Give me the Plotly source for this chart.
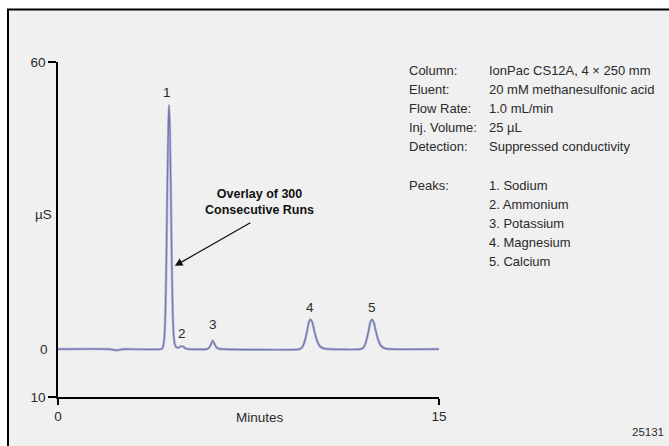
import plotly.graph_objects as go

# Chromatogram trace: retention time (min) and conductivity (µS)
time_min = [0.0, 2.0, 2.2, 2.3, 2.4, 2.6, 4.05, 4.12, 4.18, 4.23, 4.27, 4.31, 4.35,
            4.37, 4.40, 4.44, 4.48, 4.52, 4.56, 4.60, 4.66, 4.74, 4.82, 4.88, 4.94,
            5.02, 5.15, 5.85, 5.95, 6.03, 6.09, 6.16, 6.24, 6.37, 6.5, 9.5, 9.60,
            9.70, 9.80, 9.88, 9.94, 10.01, 10.10, 10.20, 10.31, 10.46, 10.7, 11.9,
            12.02, 12.12, 12.22, 12.30, 12.36, 12.43, 12.52, 12.62, 12.73, 12.88,
            13.1, 15.0]
signal_us = [0.0, 0.0, -0.15, -0.25, -0.15, 0.0, 0.0, 0.3, 2.0, 8.0, 20.0, 36.0, 48.0,
             51.0, 47.0, 34.0, 18.0, 7.0, 2.5, 1.0, 0.4, 0.3, 0.55, 0.6, 0.5,
             0.15, 0.0, 0.0, 0.3, 1.1, 1.8, 1.1, 0.35, 0.05, 0.0, 0.0, 0.3,
             1.4, 3.6, 5.7, 6.2, 5.6, 3.6, 1.7, 0.6, 0.15, 0.0, 0.0,
             0.3, 1.4, 3.6, 5.7, 6.2, 5.6, 3.6, 1.7, 0.6, 0.15,
             0.0, 0.0]

# Peak number labels (position in data units)
peak_ids = ["1", "2", "3", "4", "5"]
peak_label_x = [4.29, 4.87, 6.09, 9.93, 12.35]
peak_label_y = [53.7, 3.3, 5.2, 8.8, 8.8]

# Method conditions
cond_names = ["Column:", "Eluent:", "Flow Rate:", "Inj. Volume:", "Detection:"]
cond_values = ["IonPac CS12A, 4 × 250 mm", "20 mM methanesulfonic acid",
               "1.0 mL/min", "25 µL", "Suppressed conductivity"]
peak_names = ["1. Sodium", "2. Ammonium", "3. Potassium", "4. Magnesium", "5. Calcium"]

x_ticks = [0, 15]
x_tick_text = ["0", "15"]
y_ticks = [-10, 60]
y_tick_text = ["10", "60"]

W, H = 669, 446
L, R, T, B = 58, 230, 62, 49
PW, PH = W - L - R, H - T - B

FONT = "Liberation Sans, Arial, Helvetica, sans-serif"
TXT = "#2a2a2a"


def px(xp):
    return (xp - L) / PW


def py(yp):
    return (H - B - yp) / PH


def label(x, y, text, size=13.5, xanchor="center", xref="paper", yref="paper", **kw):
    return dict(x=x, y=y, xref=xref, yref=yref, text=text, showarrow=False,
                xanchor=xanchor, yanchor="middle",
                font=dict(family=FONT, size=size, color=kw.pop("color", TXT)), **kw)


fig = go.Figure()

# Overlaid runs: soft lavender halo with a darker core
fig.add_trace(go.Scatter(x=time_min, y=signal_us, mode="lines",
                         line=dict(color="rgba(172,172,214,0.85)", width=2.6, shape="spline", smoothing=0.6),
                         hoverinfo="skip", showlegend=False))
fig.add_trace(go.Scatter(x=time_min, y=signal_us, mode="lines",
                         line=dict(color="#7378ab", width=1.2, shape="spline", smoothing=0.6),
                         showlegend=False))

ann = []
for t, x, y in zip(peak_ids, peak_label_x, peak_label_y):
    ann.append(label(x, y, t, xref="x", yref="y"))

# Callout with arrow to peak 1
ann.append(dict(x=4.60, y=17.4, xref="x", yref="y", ax=77, ay=-44, axref="pixel", ayref="pixel",
                text="", showarrow=True, arrowhead=2, arrowsize=1.3, arrowwidth=1.2,
                arrowcolor="#111111"))
ann.append(label(px(259), py(201.7), "<b>Overlay of 300<br>Consecutive Runs</b>", size=12.5,
                 align="center", color="#111111"))

# Conditions table
row0, step = 70.0, 19.1
for i, (n, v) in enumerate(zip(cond_names, cond_values)):
    yy = py(row0 + step * i)
    ann.append(label(px(407), yy, n, size=13, xanchor="left"))
    ann.append(label(px(486.5), yy, v, size=13, xanchor="left"))
ann.append(label(px(407), py(185), "Peaks:", size=13, xanchor="left"))
for i, n in enumerate(peak_names):
    ann.append(label(px(486.5), py(185 + 19.0 * i), n, size=13, xanchor="left"))

# Axis labels and the zero tick label
ann.append(label(px(260), py(417), "Minutes"))
ann.append(label(px(43), py(214), "µS"))
ann.append(label(px(49.5), 0, "0", xanchor="right", yref="y"))
ann.append(label(px(666), py(432), "25131", size=11.5, xanchor="right"))

fig.update_layout(
    width=W, height=H,
    margin=dict(l=L, r=R, t=T, b=B, pad=0),
    paper_bgcolor="white",
    plot_bgcolor="rgba(0,0,0,0)",
    annotations=ann,
    shapes=[dict(type="rect", xref="paper", yref="paper", layer="below",
                 x0=px(8), x1=px(720), y0=py(500), y1=py(9.5),
                 fillcolor="#f0f0f0", line=dict(color="black", width=2))],
    xaxis=dict(range=[0, 15], showgrid=False, zeroline=False, showline=True,
               linecolor="black", linewidth=1.5, ticks="outside", ticklen=6,
               tickwidth=1.5, tickcolor="black", tickvals=x_ticks, ticktext=x_tick_text,
               tickfont=dict(family=FONT, size=13.5, color=TXT)),
    yaxis=dict(range=[-10, 60], showgrid=False, zeroline=False, showline=True,
               linecolor="black", linewidth=1.5, ticks="outside", ticklen=8,
               tickwidth=1.5, tickcolor="black", tickvals=y_ticks, ticktext=y_tick_text,
               tickfont=dict(family=FONT, size=13.5, color=TXT)),
)

fig.write_html("out.html")
